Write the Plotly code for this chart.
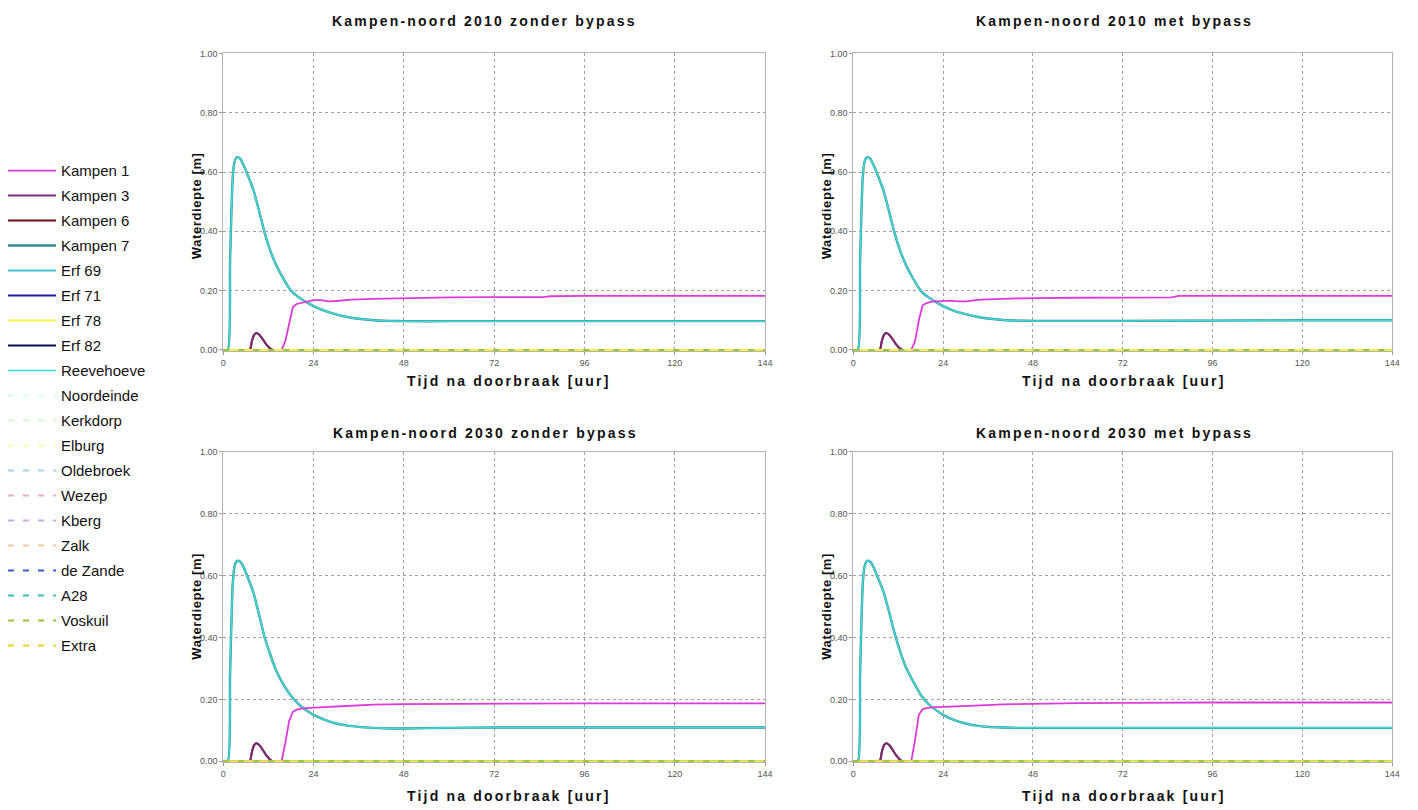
import plotly.graph_objects as go

W, H = 1418, 810

# ---------------- data ----------------
panel_titles = ["Kampen-noord 2010 zonder bypass", "Kampen-noord 2010 met bypass",
                "Kampen-noord 2030 zonder bypass", "Kampen-noord 2030 met bypass"]
x_ticks = [0, 24, 48, 72, 96, 120, 144]
y_ticks = [0.0, 0.2, 0.4, 0.6, 0.8, 1.0]

# Reevehoeve / Kampen 7 (teal peak curve)
t_peak = [0, 1.2, 1.8, 2.5, 3.0, 3.7, 4.5, 5.5, 6.5, 8, 9.5, 11, 12.5, 14, 16, 18, 20, 22, 24,
          27, 30, 33, 36, 40, 44, 48, 60, 72, 96, 120, 144]
peak_2010_zonder = [0, 0, 0.30, 0.58, 0.635, 0.65, 0.645, 0.62, 0.59, 0.54, 0.47, 0.395, 0.335,
                    0.288, 0.24, 0.20, 0.178, 0.162, 0.148, 0.132, 0.12, 0.111, 0.105, 0.10,
                    0.098, 0.097, 0.097, 0.097, 0.097, 0.097, 0.097]
peak_2010_met = [0, 0, 0.30, 0.58, 0.635, 0.65, 0.645, 0.62, 0.59, 0.54, 0.47, 0.395, 0.335,
                 0.288, 0.24, 0.20, 0.178, 0.162, 0.148, 0.132, 0.121, 0.112, 0.106, 0.101,
                 0.099, 0.098, 0.098, 0.098, 0.099, 0.100, 0.100]
peak_2030_zonder = [0, 0, 0.28, 0.57, 0.63, 0.648, 0.645, 0.625, 0.595, 0.545, 0.475, 0.40, 0.345,
                    0.295, 0.248, 0.212, 0.185, 0.166, 0.150, 0.134, 0.122, 0.115, 0.111, 0.108,
                    0.106, 0.106, 0.108, 0.109, 0.109, 0.109, 0.109]
peak_2030_met = [0, 0, 0.28, 0.57, 0.63, 0.648, 0.645, 0.625, 0.595, 0.55, 0.485, 0.415, 0.355,
                 0.305, 0.258, 0.215, 0.186, 0.166, 0.150, 0.133, 0.122, 0.115, 0.111, 0.109,
                 0.108, 0.108, 0.108, 0.108, 0.108, 0.108, 0.108]

# Kampen 1 (magenta)
t_k1 = [0, 15.5, 16.5, 17.5, 18.5, 19.5, 21, 24, 26, 28, 30, 34, 40, 48, 60, 72, 85, 87, 96, 120, 144]
k1_2010_zonder = [0, 0, 0.03, 0.09, 0.145, 0.155, 0.160, 0.168, 0.168, 0.164, 0.165, 0.170,
                  0.172, 0.175, 0.177, 0.178, 0.178, 0.181, 0.182, 0.182, 0.182]
k1_2010_met = [0, 0, 0.03, 0.10, 0.150, 0.158, 0.163, 0.166, 0.166, 0.164, 0.164, 0.170,
               0.173, 0.175, 0.176, 0.176, 0.177, 0.182, 0.182, 0.182, 0.182]
k1_2030_zonder = [0, 0, 0.06, 0.13, 0.160, 0.167, 0.171, 0.174, 0.175, 0.176, 0.177, 0.180,
                  0.183, 0.185, 0.186, 0.187, 0.187, 0.187, 0.187, 0.187, 0.187]
k1_2030_met = [0, 0, 0.07, 0.15, 0.168, 0.172, 0.174, 0.176, 0.177, 0.178, 0.179, 0.181,
               0.184, 0.186, 0.188, 0.189, 0.190, 0.190, 0.190, 0.190, 0.190]

# Kampen 3 / Kampen 6 (small bump)
t_bump = [0, 7.0, 7.6, 8.2, 8.8, 9.5, 10.5, 11.5, 12.5, 13.2, 144]
bump_2010 = [0, 0, 0.03, 0.051, 0.057, 0.052, 0.036, 0.017, 0.005, 0, 0]
bump_2030 = [0, 0, 0.03, 0.052, 0.058, 0.053, 0.037, 0.018, 0.005, 0, 0]

# series that stay at zero
t_zero = [0, 144]
zero_vals = [0, 0]

series_names = ["Kampen 1", "Kampen 3", "Kampen 6", "Kampen 7", "Erf 69", "Erf 71", "Erf 78",
                "Erf 82", "Reevehoeve", "Noordeinde", "Kerkdorp", "Elburg", "Oldebroek", "Wezep",
                "Kberg", "Zalk", "de Zande", "A28", "Voskuil", "Extra"]
series_colors = ["#dc3adc", "#7b2a7b", "#6a0c12", "#2f8f8f", "#45c2d6", "#1c1ca8", "#f4f044",
                 "#0a0a60", "#42d8d8", "#d6fbfb", "#d2f5d2", "#fbfbb0", "#a8d2f0", "#f0a8d2",
                 "#c8a8ec", "#f4c8a0", "#3a5ccc", "#38c0c8", "#9cc430", "#f0d020"]
series_dashed = [False] * 9 + [True] * 11

panel_data = [
    dict(peak=peak_2010_zonder, k1=k1_2010_zonder, bump=bump_2010),
    dict(peak=peak_2010_met, k1=k1_2010_met, bump=bump_2010),
    dict(peak=peak_2030_zonder, k1=k1_2030_zonder, bump=bump_2030),
    dict(peak=peak_2030_met, k1=k1_2030_met, bump=bump_2030),
]

# ---------------- layout helpers ----------------
def px(x):
    return x / W

def py(y):
    return 1 - y / H

x_domains = [[px(222), px(768)], [px(857), px(1400)]]
y_domains = [[py(350), py(49)], [py(766), py(452)]]

fig = go.Figure()

# drawing order: zero lines first, then bump, peak, Kampen 1, yellow/olive zero on top
draw_order = [9, 10, 11, 12, 13, 14, 15, 16, 17, 19, 5, 7, 2, 1, 4, 3, 8, 0, 6, 18]

for p in range(4):
    ax = "" if p == 0 else str(p + 1)
    d = panel_data[p]
    for i in draw_order:
        name = series_names[i]
        if name == "Kampen 1":
            tx, ty = t_k1, d["k1"]
        elif name in ("Kampen 3", "Kampen 6"):
            tx, ty = t_bump, d["bump"]
        elif name in ("Reevehoeve", "Kampen 7"):
            tx, ty = t_peak, d["peak"]
        else:
            tx, ty = t_zero, zero_vals
        width = 2
        if name == "Reevehoeve":
            width = 1.5
        elif name == "Kampen 7":
            width = 2.4
        elif name == "Kampen 1":
            width = 1.8
        line = dict(color=series_colors[i], width=width,
                    dash="6px,9px" if series_dashed[i] else "solid")
        is_spline = name != "Kampen 1" and tx is not t_zero
        if is_spline:
            line["shape"] = "spline"
            line["smoothing"] = 0.6
        fig.add_trace(go.Scatter(
            x=tx, y=ty, mode="lines", name=name, line=line,
            xaxis="x" + ax, yaxis="y" + ax,
            showlegend=(p == 0), legendgroup=name, legendrank=i + 1,
            hoverinfo="skip"))

tick_font = dict(family="Liberation Sans Narrow, Liberation Sans, Arial", size=9, color="#555555")
axis_common = dict(showline=True, linecolor="#b4b4b4", linewidth=1, mirror=True,
                   showgrid=True, gridcolor="#a0a0a0", griddash="dot", gridwidth=1,
                   zeroline=False, ticks="outside", ticklen=3, tickcolor="#9a9a9a",
                   tickfont=tick_font)

layout = dict(width=W, height=H, margin=dict(l=0, r=0, t=0, b=0),
              paper_bgcolor="white", plot_bgcolor="white",
              font=dict(family="Liberation Sans, Arial", color="#111111"),
              showlegend=True,
              legend=dict(x=px(0), y=py(151), xanchor="left", yanchor="top",
                          font=dict(family="Liberation Sans, Arial", size=15, color="#111111"),
                          tracegroupgap=2.5, itemwidth=48,
                          bgcolor="rgba(0,0,0,0)", itemclick=False))

for p in range(4):
    col, row = p % 2, p // 2
    sx = "" if p == 0 else str(p + 1)
    layout["xaxis" + sx] = dict(domain=x_domains[col], range=[0, 144], tickvals=x_ticks,
                                anchor="y" + sx, **axis_common)
    layout["yaxis" + sx] = dict(domain=y_domains[row], range=[-0.004, 1], tickvals=y_ticks,
                                tickformat=".2f", anchor="x" + sx, **axis_common)

fig.update_layout(**layout)

title_font = dict(family="Liberation Sans, Arial", size=14, color="#111111")
title_pos = [(485, 16), (1120, 16), (486, 433), (1120, 433)]
xtitle_pos = [(510, 380), (1130, 380), (510, 800), (1130, 800)]
ytitle_pos = [(195, 203), (830, 203), (195, 608), (830, 608)]

for p in range(4):
    tx, ty = title_pos[p]
    fig.add_annotation(x=px(tx), y=py(ty), xref="paper", yref="paper", showarrow=False,
                       text='<b><span style="letter-spacing:2.2px">' + panel_titles[p] + '</span></b>',
                       font=title_font, xanchor="center", yanchor="middle")
    xx, xy = xtitle_pos[p]
    fig.add_annotation(x=px(xx), y=py(xy), xref="paper", yref="paper", showarrow=False,
                       text='<b><span style="letter-spacing:2.2px">Tijd na doorbraak [uur]</span></b>',
                       font=title_font, xanchor="center", yanchor="middle")
    yx, yy = ytitle_pos[p]
    fig.add_annotation(x=px(yx), y=py(yy), xref="paper", yref="paper", showarrow=False,
                       text='<b><span style="letter-spacing:0.6px">Waterdiepte [m]</span></b>',
                       textangle=-90,
                       font=dict(family="Liberation Sans, Arial", size=13, color="#111111"),
                       xanchor="center", yanchor="middle")

fig.write_html("out.html")
